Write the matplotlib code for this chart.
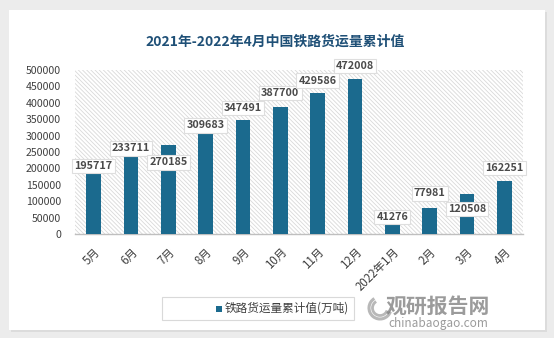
import numpy as np
import matplotlib
matplotlib.use("Agg")
import matplotlib.pyplot as plt
from matplotlib.patches import Rectangle, Arc

plt.rcParams['font.family'] = ['Noto Sans CJK SC', 'DejaVu Sans']
plt.rcParams['hatch.color'] = '#d9d9d9'
plt.rcParams['hatch.linewidth'] = 0.6

# data
months = ['5月', '6月', '7月', '8月', '9月', '10月', '11月', '12月',
          '2022年1月', '2月', '3月', '4月']
freight = [195717, 233711, 270185, 309683, 347491, 387700, 429586, 472008,
           41276, 77981, 120508, 162251]
# label nudges in pixels (positive = above bar top)
label_dy = [4, 9, -17, 7, 12, 14, 12.5, 13, 3.5, 15, -14.5, 13]

W, H = 554, 338
bar_color = '#1b6a8e'
text_color = '#404040'

fig = plt.figure(figsize=(W / 100, H / 100), dpi=100)
fig.patch.set_facecolor('#ececec')

# white card with soft shadow
fig.patches.append(Rectangle((11 / W, 6 / H), 536 / W, 320 / H,
                             transform=fig.transFigure, facecolor='#dcdcdc',
                             edgecolor='none', zorder=-3))
fig.patches.append(Rectangle((9 / W, 8 / H), 536 / W, 320 / H,
                             transform=fig.transFigure, facecolor='white',
                             edgecolor='none', zorder=-2))

ax = fig.add_axes([75 / W, (H - 234) / H, 448 / W, 164 / H])
ax.patch.set_facecolor('white')
ax.patch.set_hatch('\\\\\\\\\\\\\\\\')
ax.patch.set_edgecolor('#d9d9d9')
ax.patch.set_linewidth(0)

x = np.arange(len(months))
bars = ax.bar(x, freight, width=0.4, color=bar_color, zorder=3)

ax.set_xlim(-0.5, len(months) - 0.5)
ax.set_ylim(0, 500000)
ax.set_yticks(np.arange(0, 500001, 50000))
ax.set_yticklabels([str(v) for v in range(0, 500001, 50000)],
                   fontsize=7.6, color=text_color)
ax.set_xticks(x)
ax.set_xticklabels(months, rotation=45, ha='right', va='top',
                   rotation_mode='anchor', fontsize=8.3, color=text_color)
ax.tick_params(axis='x', length=0, pad=8)
ax.tick_params(axis='y', length=0, pad=10)
for s in ['top', 'right', 'left']:
    ax.spines[s].set_visible(False)
ax.spines['bottom'].set_color('#bfbfbf')
ax.spines['bottom'].set_linewidth(1)

for xi, v, dy in zip(x, freight, label_dy):
    ax.annotate(str(v), xy=(xi, v), xytext=(0, dy), textcoords='offset pixels',
                ha='center', va='center', fontsize=7.8, fontweight='bold',
                color='#4a4a4a', zorder=6,
                bbox=dict(boxstyle='square,pad=0.2', facecolor='white',
                          edgecolor='#dedede', linewidth=0.8))

fig.text(275 / W, 1 - 42 / H, '2021年-2022年4月中国铁路货运量累计值',
         ha='center', va='center', fontsize=10, fontweight='bold',
         color='#1f5077')

# legend
fig.patches.append(Rectangle((162 / W, (H - 320) / H), 192 / W, 23 / H,
                             transform=fig.transFigure, facecolor='white',
                             edgecolor='#d9d9d9', linewidth=0.8, zorder=1))
fig.patches.append(Rectangle((216 / W, (H - 312) / H), 6 / W, 6 / H,
                             transform=fig.transFigure, facecolor=bar_color,
                             edgecolor='none', zorder=2))
fig.text(225 / W, 1 - 308.5 / H, '铁路货运量累计值(万吨)', ha='left', va='center',
         fontsize=8.4, color=text_color)

# watermark
for r, lw in [(22, 2.2), (15, 2.0)]:
    fig.patches.append(Arc((380 / W, (H - 308) / H), r / W, r / H,
                           theta1=110, theta2=330, transform=fig.transFigure,
                           color='#9a9a9a', lw=lw, alpha=0.7, zorder=3))
fig.text(438 / W, 1 - 306 / H, '观研报告网', ha='center', va='center',
         fontsize=15, fontweight='bold', color='#7a7a7a', alpha=0.75)
fig.text(438 / W, 1 - 323 / H, 'chinabaogao.com', ha='center', va='center',
         fontsize=8.5, color='#7a7a7a', alpha=0.75)

fig.savefig('out.png', dpi=100, facecolor=fig.get_facecolor())
